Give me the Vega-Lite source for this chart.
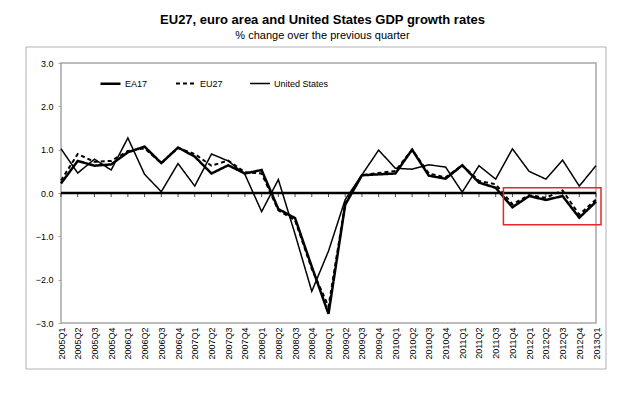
{
  "$schema": "https://vega.github.io/schema/vega-lite/v6.json",
  "autosize": {"type": "none"},
  "padding": {"left": 61, "top": 63, "right": 44, "bottom": 94},
  "width": 535,
  "height": 260,
  "background": "white",
  "title": {
    "text": "EU27, euro area and United States GDP growth rates",
    "subtitle": "% change over the previous quarter",
    "anchor": "middle",
    "dx": -6,
    "offset": 6,
    "font": "Liberation Sans",
    "fontSize": 13,
    "fontWeight": "bold",
    "color": "black",
    "subtitleFont": "Liberation Sans",
    "subtitleFontSize": 11,
    "subtitleColor": "black",
    "subtitlePadding": 3
  },
  "config": {
    "view": {"stroke": "#a6a6a6", "strokeWidth": 1.5},
    "font": "Liberation Sans"
  },
  "data": {
    "values": [
      {"q": "2005Q1", "EA17": 0.22, "EU27": 0.29, "United States": 1.02},
      {"q": "2005Q2", "EA17": 0.74, "EU27": 0.90, "United States": 0.46},
      {"q": "2005Q3", "EA17": 0.63, "EU27": 0.72, "United States": 0.78},
      {"q": "2005Q4", "EA17": 0.66, "EU27": 0.74, "United States": 0.53},
      {"q": "2006Q1", "EA17": 0.94, "EU27": 0.97, "United States": 1.27},
      {"q": "2006Q2", "EA17": 1.07, "EU27": 1.03, "United States": 0.43},
      {"q": "2006Q3", "EA17": 0.69, "EU27": 0.69, "United States": 0.03},
      {"q": "2006Q4", "EA17": 1.05, "EU27": 1.04, "United States": 0.68},
      {"q": "2007Q1", "EA17": 0.84, "EU27": 0.90, "United States": 0.16},
      {"q": "2007Q2", "EA17": 0.45, "EU27": 0.63, "United States": 0.90},
      {"q": "2007Q3", "EA17": 0.64, "EU27": 0.75, "United States": 0.74},
      {"q": "2007Q4", "EA17": 0.45, "EU27": 0.48, "United States": 0.43},
      {"q": "2008Q1", "EA17": 0.53, "EU27": 0.45, "United States": -0.43},
      {"q": "2008Q2", "EA17": -0.37, "EU27": -0.40, "United States": 0.31},
      {"q": "2008Q3", "EA17": -0.58, "EU27": -0.63, "United States": -0.95},
      {"q": "2008Q4", "EA17": -1.70, "EU27": -1.75, "United States": -2.27},
      {"q": "2009Q1", "EA17": -2.79, "EU27": -2.62, "United States": -1.34},
      {"q": "2009Q2", "EA17": -0.27, "EU27": -0.24, "United States": -0.15},
      {"q": "2009Q3", "EA17": 0.41, "EU27": 0.41, "United States": 0.42},
      {"q": "2009Q4", "EA17": 0.43, "EU27": 0.46, "United States": 0.99},
      {"q": "2010Q1", "EA17": 0.45, "EU27": 0.51, "United States": 0.57},
      {"q": "2010Q2", "EA17": 1.00, "EU27": 1.00, "United States": 0.55},
      {"q": "2010Q3", "EA17": 0.40, "EU27": 0.45, "United States": 0.65},
      {"q": "2010Q4", "EA17": 0.33, "EU27": 0.36, "United States": 0.60},
      {"q": "2011Q1", "EA17": 0.64, "EU27": 0.64, "United States": 0.02},
      {"q": "2011Q2", "EA17": 0.24, "EU27": 0.28, "United States": 0.63},
      {"q": "2011Q3", "EA17": 0.12, "EU27": 0.20, "United States": 0.32},
      {"q": "2011Q4", "EA17": -0.33, "EU27": -0.26, "United States": 1.02},
      {"q": "2012Q1", "EA17": -0.07, "EU27": -0.05, "United States": 0.50},
      {"q": "2012Q2", "EA17": -0.16, "EU27": -0.11, "United States": 0.32},
      {"q": "2012Q3", "EA17": -0.07, "EU27": 0.06, "United States": 0.76},
      {"q": "2012Q4", "EA17": -0.57, "EU27": -0.50, "United States": 0.16},
      {"q": "2013Q1", "EA17": -0.20, "EU27": -0.15, "United States": 0.63}
    ]
  },
  "layer": [
    {
      "mark": {"type": "tick", "orient": "vertical", "size": 4, "thickness": 1, "color": "black", "yOffset": 2},
      "encoding": {
        "x": {
          "field": "q",
          "type": "ordinal",
          "scale": {"type": "point", "padding": 0},
          "axis": {
            "title": null,
            "labelAngle": -90,
            "labelFontSize": 9,
            "labelColor": "black",
            "labelPadding": 4,
            "ticks": false,
            "domain": false,
            "grid": false
          }
        },
        "y": {
          "datum": 0,
          "type": "quantitative",
          "scale": {"domain": [-3, 3], "nice": false},
          "axis": {
            "title": null,
            "values": [-3, -2, -1, 0, 1, 2, 3],
            "format": ".1f",
            "labelFontSize": 9,
            "labelColor": "black",
            "labelPadding": 5,
            "tickSize": 3,
            "tickColor": "#a6a6a6",
            "domain": false,
            "gridColor": "#d9d9d9",
            "gridWidth": 1
          }
        }
      }
    },
    {
      "data": {"values": [{}]},
      "mark": {"type": "rect", "fill": null, "stroke": "#b3b3b3", "strokeWidth": 1, "xOffset": -35, "x2Offset": 10, "yOffset": -16, "y2Offset": 46},
      "encoding": {
        "x": {"datum": "2005Q1", "type": "ordinal"},
        "x2": {"datum": "2013Q1"},
        "y": {"datum": 3, "type": "quantitative"},
        "y2": {"datum": -3}
      }
    },
    {
      "data": {"values": [{}]},
      "mark": {"type": "rule", "color": "black", "strokeWidth": 2.5},
      "encoding": {"y": {"datum": 0, "type": "quantitative"}}
    },
    {
      "transform": [{"fold": ["EA17", "EU27", "United States"], "as": ["series", "value"]}],
      "mark": {"type": "line", "strokeJoin": "miter"},
      "encoding": {
        "x": {"field": "q", "type": "ordinal"},
        "y": {"field": "value", "type": "quantitative"},
        "color": {
          "field": "series",
          "type": "nominal",
          "scale": {"domain": ["EA17", "EU27", "United States"], "range": ["black", "black", "black"]},
          "legend": {
            "title": null,
            "orient": "none",
            "direction": "horizontal",
            "legendX": 38,
            "legendY": 9,
            "symbolType": "stroke",
            "symbolSize": 400,
            "labelFontSize": 9,
            "labelColor": "black",
            "labelOffset": 3,
            "columnPadding": 24
          }
        },
        "strokeDash": {
          "field": "series",
          "type": "nominal",
          "scale": {"domain": ["EA17", "EU27", "United States"], "range": [[1, 0], [4, 3], [1, 0]]},
          "legend": {
            "title": null,
            "orient": "none",
            "direction": "horizontal",
            "legendX": 38,
            "legendY": 9,
            "symbolType": "stroke",
            "symbolSize": 400,
            "labelFontSize": 9,
            "labelColor": "black",
            "labelOffset": 3,
            "columnPadding": 24
          }
        },
        "strokeWidth": {
          "field": "series",
          "type": "nominal",
          "scale": {"domain": ["EA17", "EU27", "United States"], "range": [2.5, 1.5, 0.8]},
          "legend": {
            "title": null,
            "orient": "none",
            "direction": "horizontal",
            "legendX": 38,
            "legendY": 9,
            "symbolType": "stroke",
            "symbolSize": 400,
            "labelFontSize": 9,
            "labelColor": "black",
            "labelOffset": 3,
            "columnPadding": 24
          }
        }
      }
    },
    {
      "data": {"values": [{}]},
      "mark": {"type": "rect", "fill": null, "stroke": "#e8262a", "strokeWidth": 1.5, "xOffset": -9, "x2Offset": 5},
      "encoding": {
        "x": {"datum": "2011Q4", "type": "ordinal"},
        "x2": {"datum": "2013Q1"},
        "y": {"datum": 0.12, "type": "quantitative"},
        "y2": {"datum": -0.73}
      }
    }
  ]
}
